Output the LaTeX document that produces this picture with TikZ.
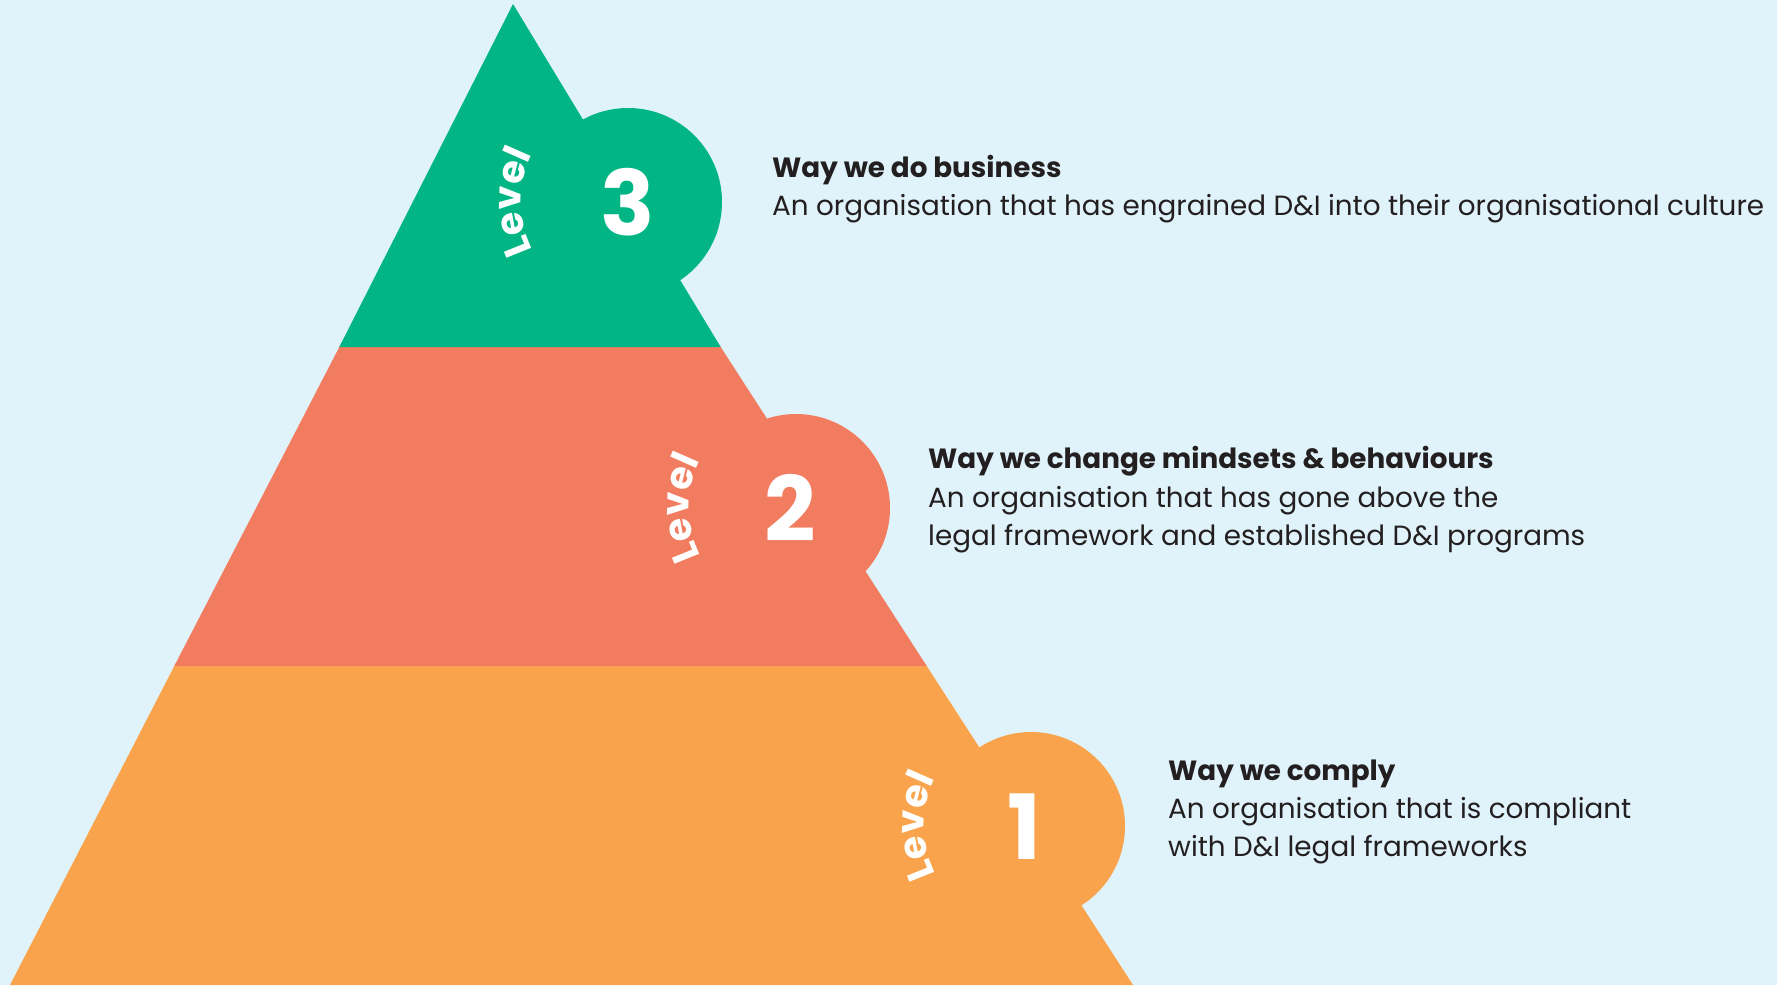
\documentclass[tikz,border=0pt]{standalone}
\usepackage{fontspec}
\setmainfont{Poppins}
\usetikzlibrary{decorations.text}
\definecolor{bg}{HTML}{E0F3FA}
\definecolor{lgreen}{HTML}{02B584}
\definecolor{lred}{HTML}{F27C5F}
\definecolor{lorange}{HTML}{F9A44C}
\definecolor{ink}{HTML}{231F20}
\newcommand\lvlfont{\fontsize{38}{38}\selectfont\bfseries}
\begin{document}
\begin{tikzpicture}[x=1pt,y=1pt,
  numtext/.style={text=white, font=\fontsize{90}{90}\selectfont\bfseries, inner sep=0pt},
  titletext/.style={text=ink, font=\fontsize{27.8}{38}\selectfont\bfseries, anchor=base west, inner sep=0pt},
  desctext/.style={text=ink, font=\fontsize{27.8}{38}\selectfont, anchor=base west, inner sep=0pt},
  lvl/.style={decorate, decoration={text along path, text align=center, text color=white, text={|\lvlfont|Level}}}
]
\fill[bg] (0,0) rectangle (1777,-985);
\useasboundingbox (0,0) rectangle (1777,-985);
% circle centres
\coordinate (c3) at (628,-202);
\coordinate (c2) at (796,-508);
\coordinate (c1) at (1031,-826);
% level 1 (orange)
\fill[lorange] (176.4,-662) -- (924.1,-662) -- (1133,-985) -- (10,-985) -- cycle;
\fill[lorange] (c1) circle[radius=94];
% level 2 (red)
\fill[lred] (341.4,-343) -- (718.1,-343) -- (926.7,-666) -- (174.3,-666) -- cycle;
\fill[lred] (c2) circle[radius=94];
% level 3 (green)
\fill[lgreen] (513,-4) -- (720.7,-347) -- (339.3,-347) -- cycle;
\fill[lgreen] (c3) circle[radius=94];
% numbers
\node[numtext] (n3) at (628,-202) {3};
\node[numtext] (n2) at (790,-508) {2};
\node[numtext] (n1) at (1024,-827) {1};
% curved "Level" labels
\path[lvl] ([shift={(235:107)}]c3) arc[start angle=235, end angle=125, radius=107];
\path[lvl] ([shift={(235:107)}]c2) arc[start angle=235, end angle=125, radius=107];
\path[lvl] ([shift={(235:107)}]c1) arc[start angle=235, end angle=125, radius=107];
% texts
\node[titletext] (t3) at (772,-177) {Way we do business};
\node[desctext] (d3) at (772,-215) {An organisation that has engrained D\&I into their organisational culture};
\node[titletext] (t2) at (928,-468.5) {Way we change mindsets \& behaviours};
\node[desctext] (d2a) at (928,-507) {An organisation that has gone above the};
\node[desctext] (d2b) at (928,-545) {legal framework and established D\&I programs};
\node[titletext] (t1) at (1168,-780) {Way we comply};
\node[desctext] (d1a) at (1168,-818) {An organisation that is compliant};
\node[desctext] (d1b) at (1168,-856) {with D\&I legal frameworks};
\end{tikzpicture}
\end{document}
